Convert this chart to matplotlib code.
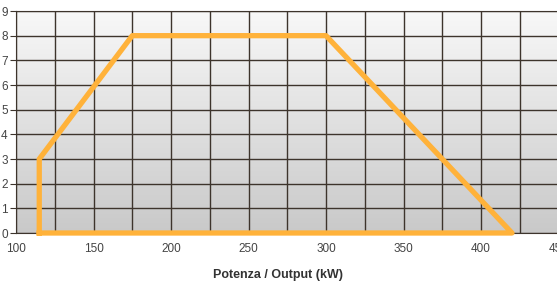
import numpy as np
import matplotlib
matplotlib.use('Agg')
import matplotlib.pyplot as plt

# campo di lavoro bruciatore
potenza = [115, 115, 175, 300, 420, 115]
pressione = [0, 3, 8, 8, 0, 0]

xticks = [100, 150, 200, 250, 300, 350, 400, 450]
yticks = list(range(0, 10))

plt.rcParams['font.family'] = ['Liberation Sans', 'DejaVu Sans']

fig = plt.figure(figsize=(5.57, 2.83), dpi=100)
ax = fig.add_axes([16/557, 50/283, 542.5/557, 222/283])

# sfondo sfumato
grad = np.linspace(0, 1, 256).reshape(-1, 1)
ax.imshow(grad, cmap=matplotlib.colors.LinearSegmentedColormap.from_list('g', ['#f8f8f8', '#c9c9c9']),
          extent=[100, 450, 0, 9], aspect='auto', zorder=0)

ax.set_xlim(100, 450)
ax.set_ylim(0, 9)
ax.set_xticks(np.arange(100, 451, 25), minor=False)
ax.set_xticklabels([str(v) if v in xticks else '' for v in np.arange(100, 451, 25)])
ax.set_yticks(yticks)
ax.grid(True, color='#3d342c', lw=1.0, zorder=1)
ax.set_axisbelow(False)

ax.plot(potenza, pressione, color='#ffb23a', lw=3.8, zorder=3, solid_joinstyle='round', clip_on=False)

for s in ['left', 'top', 'bottom']:
    ax.spines[s].set_color('#3d342c')
ax.spines['right'].set_visible(False)
ax.tick_params(axis='y', length=4, color='#3d342c', labelsize=8.5, labelcolor='#444444', pad=2)
ax.tick_params(axis='x', length=0, labelsize=8.5, labelcolor='#444444', pad=7)

fig.text(278/557, 2/283, 'Potenza / Output (kW)', ha='center', va='bottom',
         fontsize=9, fontweight='bold', color='#333333')

fig.savefig('out.png', dpi=100)
